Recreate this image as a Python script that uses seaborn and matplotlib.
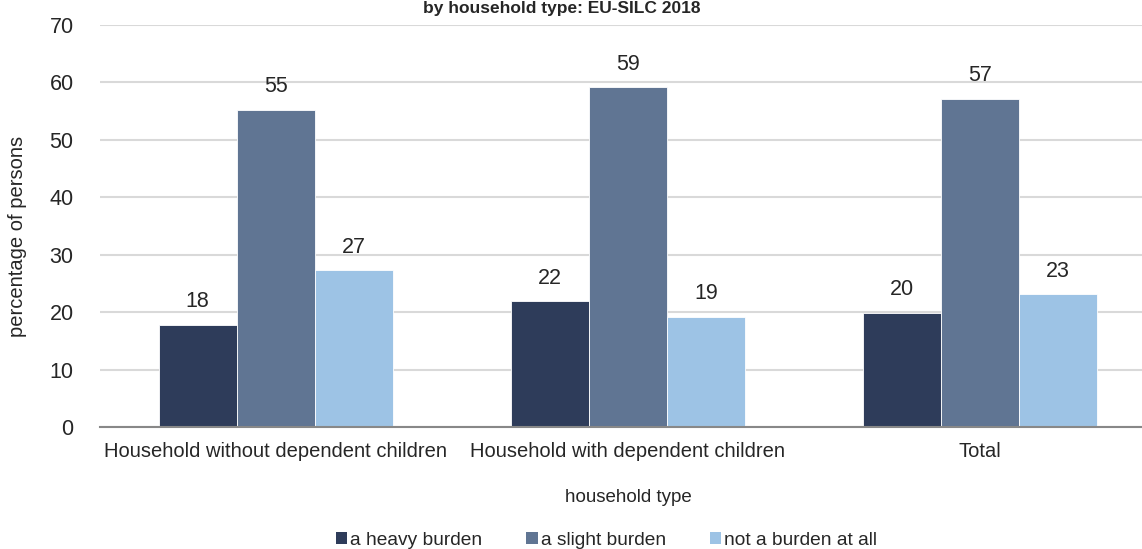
import matplotlib
matplotlib.use("Agg")
import matplotlib.pyplot as plt
from matplotlib.patches import Patch
import seaborn as sns
import pandas as pd

# Household types on the x axis
categories = [
    "Household without dependent children",
    "Household with dependent children",
    "Total",
]
# Burden levels (hue)
burden_levels = ["a heavy burden", "a slight burden", "not a burden at all"]
# Percentage of persons per burden level, one value per household type
heavy = [17.8, 21.9, 19.9]
slight = [55.2, 59.2, 57.2]
not_burden = [27.3, 19.2, 23.1]
y_ticks = [0, 10, 20, 30, 40, 50, 60, 70]

palette = ["#2E3C5A", "#607593", "#9DC3E5"]

rows = []
for level, values in zip(burden_levels, [heavy, slight, not_burden]):
    for cat, v in zip(categories, values):
        rows.append({"household type": cat, "burden": level, "value": v})
df = pd.DataFrame(rows)

sns.set_theme(style="white")
plt.rcParams["font.family"] = ["Liberation Sans", "DejaVu Sans"]
text_color = "#262626"

fig = plt.figure(figsize=(11.42, 5.49), dpi=100)
ax = fig.add_axes([100 / 1142, 1 - 427 / 549, 1056 / 1142, 402 / 549])

sns.barplot(
    data=df, x="household type", y="value", hue="burden",
    order=categories, hue_order=burden_levels, palette=palette,
    width=0.667, saturation=1, edgecolor="white", linewidth=0.6,
    legend=False, ax=ax,
)

ax.set_ylim(0, 70)
ax.set_xlim(-0.5, 2.5)
ax.set_yticks(y_ticks)
ax.set_yticklabels([str(t) for t in y_ticks], fontsize=15.5, color=text_color)
ax.yaxis.grid(True, color="#D9D9D9", linewidth=1.5)
ax.set_axisbelow(True)
ax.tick_params(axis="y", length=0, pad=19)

# category labels centred, separators as minor ticks
ax.set_xticks(range(len(categories)))
ax.set_xticklabels(categories, fontsize=14.5, color=text_color)
ax.tick_params(axis="x", which="major", length=0, pad=11)
ax.set_xticks([-0.5, 0.5, 1.5, 2.5], minor=True)
ax.tick_params(axis="x", which="minor", length=5, width=1.2, color="#888888", direction="out")

for side in ["top", "right", "left"]:
    ax.spines[side].set_visible(False)
ax.spines["bottom"].set_color("#888888")
ax.spines["bottom"].set_linewidth(1.5)

ax.set_xlabel("household type", fontsize=13.5, color=text_color, labelpad=20)
ax.set_ylabel("percentage of persons", fontsize=14.5, color=text_color)
ax.yaxis.set_label_coords(-0.069, 0.475)

for container in ax.containers:
    ax.bar_label(container, fmt="%.0f", padding=9, fontsize=15.5, color=text_color)

fig.text(0.492, 0.998, "by household type: EU-SILC 2018", ha="center", va="top",
         fontsize=12.5, fontweight="bold", color=text_color)

handles = [Patch(facecolor=c, edgecolor="none") for c in palette]
fig.legend(handles, burden_levels, loc="center", bbox_to_anchor=(0.531, 0.016),
           ncol=3, frameon=False, fontsize=13.8, handlelength=0.6, handleheight=0.6,
           handletextpad=0.15, columnspacing=2.3, labelcolor=text_color)

fig.savefig("out.png", dpi=100)
